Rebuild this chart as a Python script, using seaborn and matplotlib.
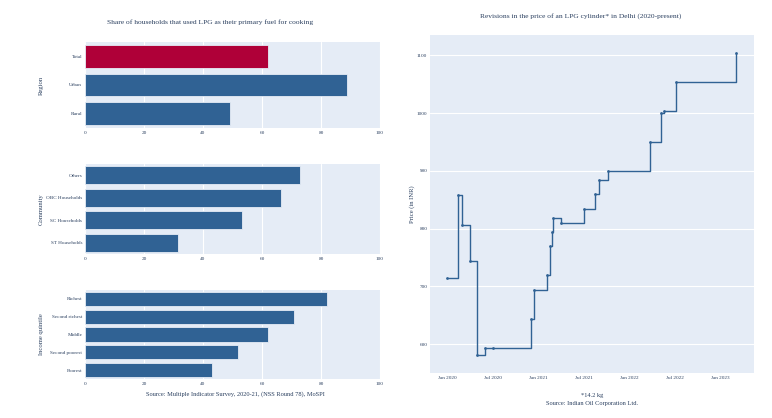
import pandas as pd
import seaborn as sns
import matplotlib.pyplot as plt
import matplotlib.dates as mdates

# LPG as primary cooking fuel (% of households), NSS Round 78
region = ['Total', 'Urban', 'Rural']
region_share = [61.9, 88.9, 49.3]

community = ['Others', 'OBC Households', 'SC Households', 'ST Households']
community_share = [72.9, 66.4, 53.1, 31.6]

quintile = ['Richest', 'Second richest', 'Middle', 'Second poorest', 'Poorest']
quintile_share = [82.2, 70.8, 61.9, 51.8, 43.2]

# Price of a 14.2 kg LPG cylinder in Delhi (INR)
revision_dates = ['2020-01-01', '2020-02-12', '2020-03-01', '2020-04-01', '2020-05-01',
                  '2020-06-01', '2020-07-01', '2020-12-02', '2020-12-15', '2021-02-04',
                  '2021-02-15', '2021-02-25', '2021-03-01', '2021-04-01', '2021-07-01',
                  '2021-08-17', '2021-09-01', '2021-10-06', '2022-03-22', '2022-05-07',
                  '2022-05-19', '2022-07-06', '2023-03-01']
price = [714, 858.5, 805.5, 744, 581.5, 593, 594, 644, 694, 719, 769, 794, 819, 809,
         834.5, 859.5, 884.5, 899.5, 949.5, 999.5, 1003, 1053, 1103]

BG = '#E5ECF6'
TXT = '#2a3f5f'
BLUE = '#306294'
RED = '#AF0038'

sns.set_theme(style='darkgrid')
plt.rcParams['font.family'] = ['Liberation Serif', 'DejaVu Serif']
plt.rcParams['axes.facecolor'] = BG
plt.rcParams['grid.color'] = 'white'
plt.rcParams['grid.linewidth'] = 0.8

fig = plt.figure(figsize=(7.72, 4.18), dpi=100)
W, H = 772, 418


def box(x0, y0, x1, y1):
    return [x0 / W, 1 - y1 / H, (x1 - x0) / W, (y1 - y0) / H]


def style(ax, size):
    for s in ax.spines.values():
        s.set_visible(False)
    ax.tick_params(axis='both', length=0, labelsize=size, colors=TXT, pad=2)
    ax.set_xlabel('')
    ax.set_ylabel('')


bar_panels = [
    (box(85, 42, 380, 128), region, region_share, 'Region', [RED, BLUE, BLUE]),
    (box(85, 164, 380, 254), community, community_share, 'Community', [BLUE] * 4),
    (box(85, 290, 380, 379), quintile, quintile_share, 'Income quintile', [BLUE] * 5),
]

for pos, cats, vals, label, cols in bar_panels:
    ax = fig.add_axes(pos)
    df = pd.DataFrame({'cat': cats, 'val': vals})
    sns.barplot(data=df, x='val', y='cat', hue='cat', palette=cols, legend=False,
                orient='h', width=0.8, saturation=1, edgecolor=BG, linewidth=0.6, ax=ax)
    ax.set_xlim(0, 100)
    ax.set_xticks([0, 20, 40, 60, 80, 100])
    ax.grid(axis='y', visible=False)
    ax.grid(axis='x', visible=True)
    style(ax, 3.7)
    fig.text(41 / W, pos[1] + pos[3] / 2, label, rotation=90, ha='center', va='center',
             fontsize=4.8, color=TXT)

fig.text(210 / W, 1 - 22 / H, 'Share of households that used LPG as their primary fuel for cooking',
         ha='center', va='center', fontsize=5.4, color=TXT)
fig.text(235 / W, 1 - 394 / H, 'Source: Multiple Indicator Survey, 2020-21, (NSS Round 78), MoSPI',
         ha='center', va='center', fontsize=4.6, color=TXT)

# price revisions
ax = fig.add_axes(box(430, 35, 754, 373))
pdf = pd.DataFrame({'date': pd.to_datetime(revision_dates), 'price': price})
sns.lineplot(data=pdf, x='date', y='price', drawstyle='steps-post', color=BLUE,
             linewidth=1.0, marker='o', markersize=2, markeredgewidth=0, ax=ax)
ax.set_xlim(pd.Timestamp('2019-10-24'), pd.Timestamp('2023-05-14'))
ax.set_ylim(550, 1135)
ax.set_yticks([600, 700, 800, 900, 1000, 1100])
ax.xaxis.set_major_locator(mdates.MonthLocator(bymonth=[1, 7]))
ax.xaxis.set_major_formatter(mdates.DateFormatter('%b %Y'))
ax.grid(axis='x', visible=False)
ax.grid(axis='y', visible=True)
style(ax, 3.7)
fig.text(412 / W, 1 - 204 / H, 'Price (in INR)', rotation=90, ha='center', va='center',
         fontsize=4.8, color=TXT)

fig.text(581 / W, 1 - 16 / H, 'Revisions in the price of an LPG cylinder* in Delhi (2020-present)',
         ha='center', va='center', fontsize=5.4, color=TXT)
fig.text(592 / W, 1 - 396 / H, '*14.2 kg', ha='center', va='center', fontsize=4.6, color=TXT)
fig.text(592 / W, 1 - 403 / H, 'Source: Indian Oil Corporation Ltd.', ha='center', va='center',
         fontsize=4.6, color=TXT)

fig.savefig('out.png', dpi=100, facecolor='white')
